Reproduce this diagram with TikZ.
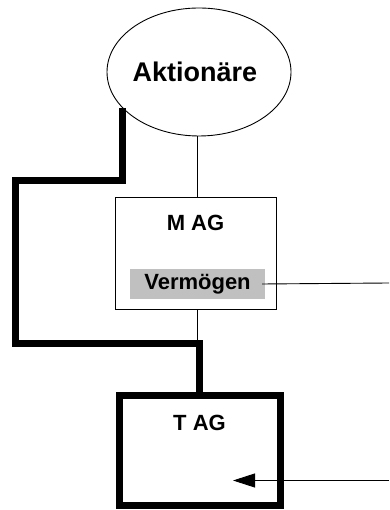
\documentclass[tikz,border=0pt]{standalone}
\usepackage{fontspec}
\setmainfont{Liberation Sans}
\usetikzlibrary{shapes.geometric,arrows.meta,calc}
\definecolor{vgray}{RGB}{192,192,192}
\tikzset{
  thinline/.style={line width=0.9pt},
  thickline/.style={line width=7pt, line join=miter},
  lbl/.style={font=\bfseries\fontsize{22}{24}\selectfont, inner sep=0pt}
}
\begin{document}
\begin{tikzpicture}[x=1pt,y=1pt]
\useasboundingbox (0,0) rectangle (389,510);
\fill[white] (0,0) rectangle (389,510);
% shareholders
\node[ellipse, draw, thinline, minimum width=184pt, minimum height=128pt, inner sep=0pt,
      font=\bfseries\fontsize{27}{30}\selectfont] (akt) at (199,438) {\hspace*{-8pt}Aktionäre};
% M AG
\node[draw, thinline, minimum width=161pt, minimum height=112pt, inner sep=0pt,
      label={[lbl, anchor=north, yshift=-18pt]north:M AG}] (mag) at (195.5,257) {};
\node[fill=vgray, minimum width=135pt, minimum height=30pt, inner sep=0pt, lbl] (verm) at (197.5,226) {Vermögen};
% T AG
\node[draw, line width=7pt, minimum width=161pt, minimum height=110pt, inner sep=0pt,
      label={[lbl, anchor=north, yshift=-23pt]north:T AG}] (tag) at (199.5,59.5) {};
% free ends
\coordinate (r1) at (389,227);
\coordinate (r2) at (389,29.5);
\coordinate (tip) at (233,29.5);
\coordinate (c1) at (15.5,329);
\coordinate (c2) at (15.5,166.5);
% connectors
\draw[thinline] ([xshift=-2pt]akt.south) -- ([xshift=-2pt]akt.south |- mag.north);
\draw[thinline] ([xshift=1.5pt]mag.south) -- ([xshift=1.5pt]mag.south |- c2);
\draw[thinline] ([xshift=-3pt]verm.east) -- (r1);
\draw[thickline] (akt.205.9) |- (c1) -- (c2) -- (c2 -| tag.north) -- (tag.north);
\draw[thinline, -{Triangle[length=22pt,width=14pt]}] (r2) -- (tip);
\end{tikzpicture}
\end{document}
